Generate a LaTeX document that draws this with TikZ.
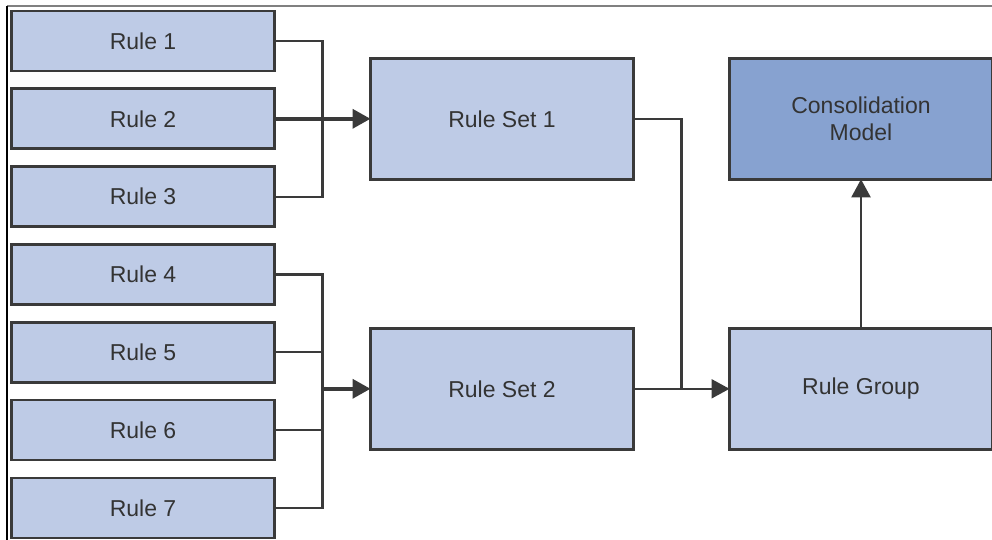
\documentclass[tikz,border=0pt]{standalone}
\usepackage{fontspec}
\setmainfont{Liberation Sans}
\usepackage{xcolor}
\usetikzlibrary{positioning,arrows.meta}
\definecolor{rulefill}{HTML}{BECBE6}
\definecolor{modelfill}{HTML}{87A2D0}
\definecolor{edge}{HTML}{3A3A3A}
\definecolor{txt}{HTML}{333333}

\begin{document}
\begin{tikzpicture}[x=1pt, y=-1pt,
  rulebox/.style={draw=edge, line width=2.6pt, fill=rulefill, minimum width=263pt,
                  minimum height=60pt, text centered, text=txt, outer sep=0pt,
                  font=\fontsize{23}{27}\selectfont, inner sep=0pt},
  setbox/.style={rulebox, minimum height=121pt, align=center},
  conn/.style={draw=edge, line width=2.2pt},
  arr/.style={conn, -{Triangle[length=18pt, width=19pt]}},
  busarr/.style={arr, line width=3.6pt}
]
%% --- Canvas and frame ---
\clip (0,0) rectangle (992,540);
\fill[white] (0,0) rectangle (992,540);
\draw[gray, line width=1.4pt] (7,6) -- (992,6);
\draw[black, line width=1.4pt] (7,6) -- (7,540);

%% --- Rules (left column) ---
\node[rulebox] (r1) at (143,41) {Rule 1};
\node[rulebox, below=17.8pt of r1] (r2) {Rule 2};
\node[rulebox, below=17.8pt of r2] (r3) {Rule 3};
\node[rulebox, below=17.8pt of r3] (r4) {Rule 4};
\node[rulebox, below=17.8pt of r4] (r5) {Rule 5};
\node[rulebox, below=17.8pt of r5] (r6) {Rule 6};
\node[rulebox, below=17.8pt of r6] (r7) {Rule 7};

%% --- Rule sets ---
\node[setbox, right=96pt of r2]  (rs1) {Rule Set 1};
\node[setbox, below=149pt of rs1] (rs2) {Rule Set 2};

%% --- Rule group and model ---
\node[setbox, right=96pt of rs1, fill=modelfill] (cm) {Consolidation\\Model};
\node[setbox, right=96pt of rs2] (rg) {Rule Group};

%% --- Joints ---
\coordinate[left=48pt of rs1] (bus1);
\coordinate[left=48pt of rs2] (bus2);
\coordinate[left=48pt of rg]  (bus3);

%% --- Connectors ---
\draw[conn] (r1.east) -| (bus1) |- (r3.east);
\draw[busarr] (r2) -- (rs1);

\draw[conn] (r4.east) -| (bus2) |- (r7.east);
\draw[conn] (r5.east) -- (r5.east -| bus2);
\draw[conn] (r6.east) -- (r6.east -| bus2);
\draw[busarr] (bus2) -- (rs2);

\draw[conn] (rs1.east) -| (bus3);
\draw[arr] (rs2) -- (rg);
\draw[arr] (rg) -- (cm);
\end{tikzpicture}
\end{document}
